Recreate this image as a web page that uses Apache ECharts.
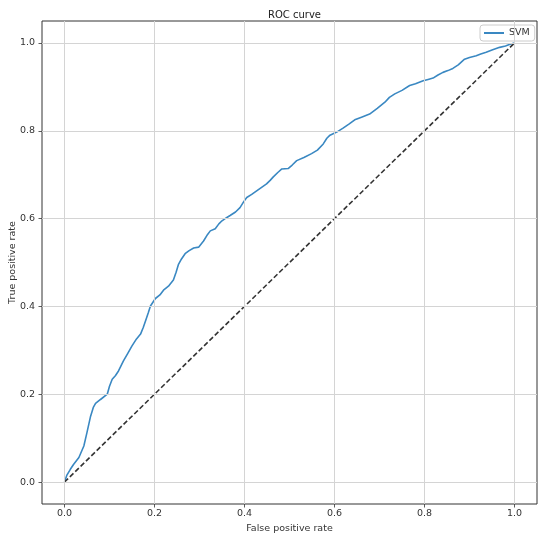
<!DOCTYPE html>
<html>
<head>
<meta charset="utf-8">
<script src="https://cdn.jsdelivr.net/npm/echarts@6/dist/echarts.min.js"></script>
<style>
html,body{margin:0;padding:0;background:#fff;}
#chart{width:550px;height:539px;}
</style>
</head>
<body>
<div id="chart"></div>
<script>
const chartTitle = 'ROC curve';
const xAxisName = 'False positive rate';
const yAxisName = 'True positive rate';
const seriesName = 'SVM';
const tickValues = [0, 0.2, 0.4, 0.6, 0.8, 1.0];
const fprValues = [0, 0.005, 0.013, 0.02, 0.032, 0.043, 0.05, 0.058, 0.064, 0.069, 0.08, 0.095, 0.1, 0.106, 0.113, 0.12, 0.131, 0.14, 0.15, 0.16, 0.169, 0.175, 0.18, 0.186, 0.191, 0.202, 0.212, 0.22, 0.231, 0.242, 0.248, 0.253, 0.26, 0.268, 0.277, 0.287, 0.298, 0.309, 0.318, 0.324, 0.335, 0.343, 0.35, 0.36, 0.368, 0.38, 0.39, 0.398, 0.405, 0.416, 0.427, 0.438, 0.449, 0.457, 0.464, 0.474, 0.483, 0.497, 0.506, 0.516, 0.532, 0.549, 0.562, 0.575, 0.583, 0.59, 0.605, 0.619, 0.632, 0.645, 0.66, 0.678, 0.695, 0.712, 0.722, 0.734, 0.75, 0.767, 0.78, 0.797, 0.808, 0.819, 0.83, 0.841, 0.852, 0.863, 0.875, 0.889, 0.9, 0.915, 0.925, 0.937, 0.95, 0.967, 0.98, 0.99, 1.0];
const tprValues = [0, 0.015, 0.029, 0.04, 0.056, 0.082, 0.113, 0.15, 0.17, 0.179, 0.188, 0.2, 0.218, 0.234, 0.242, 0.253, 0.276, 0.292, 0.31, 0.326, 0.337, 0.352, 0.367, 0.385, 0.401, 0.418, 0.426, 0.437, 0.446, 0.46, 0.478, 0.495, 0.508, 0.52, 0.527, 0.533, 0.535, 0.549, 0.564, 0.572, 0.577, 0.588, 0.595, 0.602, 0.607, 0.615, 0.625, 0.638, 0.648, 0.655, 0.663, 0.671, 0.679, 0.687, 0.695, 0.705, 0.713, 0.714, 0.722, 0.732, 0.739, 0.748, 0.756, 0.77, 0.783, 0.79, 0.797, 0.806, 0.815, 0.825, 0.831, 0.838, 0.851, 0.865, 0.876, 0.884, 0.892, 0.903, 0.907, 0.914, 0.917, 0.92, 0.927, 0.933, 0.937, 0.942, 0.95, 0.963, 0.967, 0.971, 0.975, 0.979, 0.984, 0.99, 0.993, 0.997, 1.0];
const diagX = [0, 1];
const diagY = [0, 1];

const curveData = fprValues.map((x, i) => [x, tprValues[i]]);
const diagData = diagX.map((x, i) => [x, diagY[i]]);
const gridLineData = tickValues.map(v => ({xAxis: v})).concat(tickValues.map(v => ({yAxis: v})));

const font = 'DejaVu Sans';
const chart = echarts.init(document.getElementById('chart'), null, {renderer: 'canvas'});
const axisCommon = {
  type: 'value',
  min: -0.05,
  max: 1.05,
  splitLine: {show: false},
  axisLine: {show: false, onZero: false},
  axisTick: {show: true, inside: false, length: 3.5, customValues: tickValues, lineStyle: {color: '#333', width: 0.8}},
  nameLocation: 'middle',
  nameMoveOverlap: false,
  nameTextStyle: {fontFamily: font, fontSize: 9.5, color: '#333'}
};
chart.setOption({
  animation: false,
  backgroundColor: '#fff',
  title: {
    text: chartTitle, left: 289.5, top: 5, textAlign: 'center',
    textStyle: {fontFamily: font, fontSize: 10, fontWeight: 'normal', color: '#222'}
  },
  legend: {
    data: [seriesName], left: 480, top: 25,
    padding: [3, 5, 3, 4], itemWidth: 20, itemHeight: 2, icon: 'rect', itemGap: 5,
    backgroundColor: '#fff', borderColor: '#ccc', borderWidth: 1, borderRadius: 3,
    textStyle: {fontFamily: font, fontSize: 9.5, color: '#333'}
  },
  grid: {left: 42, right: 13, top: 21, bottom: 35, containLabel: false, outerBoundsMode: 'none', show: true, borderColor: '#333', borderWidth: 1, backgroundColor: 'transparent'},
  xAxis: Object.assign({}, axisCommon, {
    name: xAxisName, nameGap: 20,
    axisLabel: {customValues: tickValues, margin: 5, fontFamily: font, fontSize: 9.5, color: '#333', formatter: v => v.toFixed(1)}
  }),
  yAxis: Object.assign({}, axisCommon, {
    name: yAxisName, nameGap: 24,
    axisLabel: {customValues: tickValues, margin: 7, fontFamily: font, fontSize: 9.5, color: '#333', formatter: v => v.toFixed(1)}
  }),
  series: [
    {
      name: 'grid', type: 'line', data: [], z: 1, silent: true,
      markLine: {
        silent: true, symbol: ['none', 'none'], label: {show: false},
        lineStyle: {color: '#d4d4d4', width: 1, type: 'solid'},
        emphasis: {disabled: true},
        data: gridLineData
      }
    },
    {
      name: seriesName, type: 'line', data: curveData, showSymbol: false, z: 3,
      lineStyle: {color: '#3a88c2', width: 1.6}, itemStyle: {color: '#3a88c2'}
    },
    {
      name: 'chance', type: 'line', data: diagData, showSymbol: false, z: 4,
      lineStyle: {color: '#333', width: 1.6, type: [5, 2.5]}
    }
  ]
});
</script>
</body>
</html>
